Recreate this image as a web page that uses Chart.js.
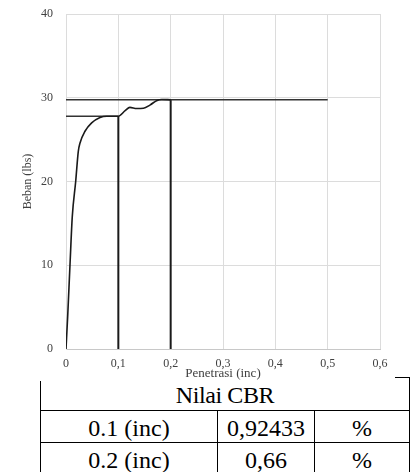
<!DOCTYPE html>
<html>
<head>
<meta charset="utf-8">
<script src="https://cdn.jsdelivr.net/npm/chart.js@4/dist/chart.umd.min.js"></script>
<style>
  html, body { margin: 0; padding: 0; background: #fff; width: 412px; height: 472px; overflow: hidden; }
  #wrap { position: absolute; left: 0; top: 0; width: 395px; height: 381px; background: #fff; z-index: 2; }
  table { position: absolute; left: 40px; top: 377px; width: 369px; border-collapse: collapse; table-layout: fixed; z-index: 1;
          font-family: "Liberation Serif", "Times New Roman", serif; font-size: 24px; color: #000; }
  td { border: 1.5px solid #000; text-align: center; padding: 0; vertical-align: top; overflow: hidden; white-space: nowrap; }
  tr.r1 td { height: 32px; }
  tr.r2 td, tr.r3 td { height: 31px; }
  td div { box-sizing: border-box; overflow: hidden; }
  tr.r1 td div { height: 32px; line-height: 30px; padding-top: 2px; letter-spacing: -0.4px; }
  tr.r2 td div, tr.r3 td div { height: 31px; line-height: 27px; padding-top: 4px; }
</style>
</head>
<body>
<div id="wrap"><canvas id="c" width="395" height="381"></canvas></div>
<table>
  <colgroup><col style="width:177px"><col style="width:97px"><col style="width:95px"></colgroup>
  <tr class="r1"><td colspan="3"><div id="title"></div></td></tr>
  <tr class="r2"><td><div id="a1"></div></td><td><div id="b1"></div></td><td><div id="c1"></div></td></tr>
  <tr class="r3"><td><div id="a2"></div></td><td><div id="b2"></div></td><td><div id="c2"></div></td></tr>
</table>
<script>
// Data
const curveX = [0, 0.0032, 0.0076, 0.012, 0.0185, 0.0235, 0.0268, 0.0363, 0.049, 0.065, 0.078, 0.1, 0.113, 0.122, 0.135, 0.148, 0.161, 0.173, 0.183, 0.2];
const curveY = [0, 3.9, 10, 15.8, 20, 23.6, 24.6, 26, 27, 27.65, 27.8, 27.8, 28.45, 28.85, 28.72, 28.75, 29.15, 29.65, 29.8, 29.75];
const refLoadY = [27.8, 29.75];      // horizontal reference levels
const refLineEndX = [0.1, 0.5];      // end x of the horizontal reference lines
const refPenX = [0.1, 0.2];          // vertical reference penetrations
const xTicks = [0, 0.1, 0.2, 0.3, 0.4, 0.5, 0.6];
const yTicks = [0, 10, 20, 30, 40];
const tableTitle = "Nilai CBR";
const tableLabels = ["0.1 (inc)", "0.2 (inc)"];
const tableValues = ["0,92433", "0,66"];
const tableUnits = ["%", "%"];

document.getElementById('title').textContent = tableTitle;
document.getElementById('a1').textContent = tableLabels[0];
document.getElementById('a2').textContent = tableLabels[1];
document.getElementById('b1').textContent = tableValues[0];
document.getElementById('b2').textContent = tableValues[1];
document.getElementById('c1').textContent = tableUnits[0];
document.getElementById('c2').textContent = tableUnits[1];

const curve = curveX.map((x, i) => ({ x: x, y: curveY[i] }));
const lineColor = '#1a1a1a';
const datasets = [
  { data: curve, borderColor: lineColor, borderWidth: 1.6, cubicInterpolationMode: 'monotone', pointRadius: 0, showLine: true }
];
refLoadY.forEach((y, i) => {
  datasets.push({ data: [{ x: 0, y: y }, { x: refLineEndX[i], y: y }], borderColor: '#333', borderWidth: 1.5, pointRadius: 0, showLine: true });
});
refPenX.forEach((x, i) => {
  datasets.push({ data: [{ x: x, y: 0 }, { x: x, y: refLoadY[i] }], borderColor: lineColor, borderWidth: 2, pointRadius: 0, showLine: true });
});

const tickFont = { family: "'Liberation Serif', serif", size: 12 };
const xTitleFont = { family: "'Liberation Serif', serif", size: 13 };
const yTitleFont = { family: "'Liberation Serif', serif", size: 12 };

new Chart(document.getElementById('c'), {
  type: 'scatter',
  data: { datasets: datasets },
  options: {
    responsive: false,
    animation: false,
    devicePixelRatio: 1,
    layout: { padding: { top: 14, right: 15, bottom: 0, left: 0 } },
    plugins: { legend: { display: false }, tooltip: { enabled: false } },
    scales: {
      x: {
        type: 'linear', min: xTicks[0], max: xTicks[xTicks.length - 1],
        afterBuildTicks: s => { s.ticks = xTicks.map(v => ({ value: v })); },
        afterFit: s => { s.height = 32; s.paddingLeft = 0; s.paddingRight = 0; },
        ticks: { font: tickFont, color: '#404040', padding: 8,
                 callback: v => v === 0 ? '0' : v.toFixed(1).replace('.', ',') },
        grid: { color: '#dcdcdc', drawTicks: false },
        border: { color: '#c8c8c8' },
        title: { display: true, text: 'Penetrasi (inc)', font: xTitleFont, color: '#404040', padding: { top: 0, bottom: 0 } }
      },
      y: {
        type: 'linear', min: yTicks[0], max: yTicks[yTicks.length - 1],
        afterBuildTicks: s => { s.ticks = yTicks.map(v => ({ value: v })); },
        afterFit: s => { s.width = 66; s.paddingTop = 0; s.paddingBottom = 0; },
        ticks: { font: tickFont, color: '#404040', padding: 13 },
        grid: { color: '#dcdcdc', drawTicks: false },
        border: { color: '#dcdcdc' },
        title: { display: true, text: 'Beban (lbs)', font: yTitleFont, color: '#404040', padding: { top: 21, bottom: 0 } }
      }
    }
  }
});
</script>
</body>
</html>
